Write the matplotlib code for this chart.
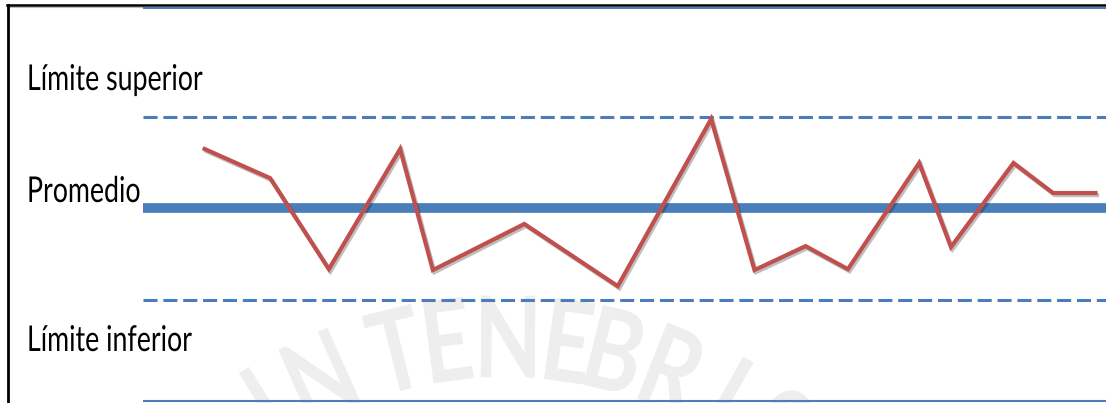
import numpy as np
import matplotlib
matplotlib.use("Agg")
import matplotlib.pyplot as plt
import matplotlib.patheffects as pe
from matplotlib.lines import Line2D
from matplotlib.transforms import Affine2D
from matplotlib.textpath import TextPath
from matplotlib.font_manager import FontProperties

# ---- data -------------------------------------------------------------
x_vals = [6.4, 13.2, 19.3, 26.7, 30.1, 39.6, 49.3, 59.0, 63.5, 68.8,
          73.2, 80.6, 83.9, 90.4, 94.5, 98.9]
y_vals = [1.96, 1.00, -2.00, 1.96, -2.03, -0.51, -2.56, 2.95, -2.03, -1.24,
          -2.00, 1.50, -1.27, 1.50, 0.51, 0.51]
mean_val = 0.0
ucl_val = 3.0
lcl_val = -3.0
frame_top = 6.6
frame_bottom = -6.35
labels = ["Límite superior", "Promedio", "Límite inferior"]
watermark = "IN TENEBRIS"


class HCompress(pe.AbstractPathEffect):
    """Draw text glyphs squeezed horizontally (the reference is a squeezed image)."""

    def __init__(self, sx, about="left"):
        super().__init__()
        self.sx = sx
        self.about = about

    def draw_path(self, renderer, gc, tpath, affine, rgbFace=None):
        if self.about == "center":
            ext = tpath.get_extents()
            c = (ext.x0 + ext.x1) / 2
        else:
            c = 0.0
        pre = Affine2D().translate(-c, 0).scale(self.sx, 1).translate(c, 0)
        renderer.draw_path(gc, tpath, pre + affine, rgbFace)


W, H = 1106, 403
fig = plt.figure(figsize=(W / 100, H / 100), dpi=100)
fig.patch.set_facecolor("white")

label_font = FontProperties(family=["Lato", "DejaVu Sans"])
# size the labels: cap height ~25.5 px, "Promedio" ~110 px wide
cap = TextPath((0, 0), "P", size=100, prop=label_font).get_extents().height / 100
fs_px = 25.5 / cap
fs_pt = fs_px * 72 / 100
w_prom = TextPath((0, 0), "Promedio", size=fs_px, prop=label_font).get_extents().width
sx_lab = 110 / w_prom

# background decoration axes in pixel units
bg = fig.add_axes([0, 0, 1, 1])
bg.set_xlim(0, W)
bg.set_ylim(H, 0)
bg.axis("off")

# watermark letters along an arc
wm_font = FontProperties(family=["Lato", "DejaVu Sans"], weight="bold")
wm_cap = TextPath((0, 0), "T", size=100, prop=wm_font).get_extents().height / 100
wm_pt = (82 / wm_cap) * 72 / 100
cx, cy, r = 505, 790, 445
wm_x = [270, 323, None, 398, 447, 508, 566, 612, 668, 724, 772]
for ch, xc in zip(watermark, wm_x):
    if xc is None:
        continue
    t = np.arcsin((xc - cx) / r)
    py = cy - r * np.cos(t)
    bg.text(xc, py, ch, fontproperties=wm_font, fontsize=wm_pt,
            color="#eeeeee", ha="center", va="center", rotation=-np.degrees(t),
            rotation_mode="anchor", zorder=0,
            path_effects=[HCompress(0.78, "center")])

# frame lines (black)
bg.add_line(Line2D([7.5, 7.5], [5, H], color="black", lw=2.0, zorder=5))
bg.add_line(Line2D([7, W], [5, 5], color="black", lw=1.8, zorder=5))
bg.add_line(Line2D([7, W], [6.8, 6.8], color="#bbbbbb", lw=0.8, zorder=4))

# labels
for txt, base in zip(labels, [90, 202, 351]):
    bg.text(27, base, txt, fontproperties=label_font, fontsize=fs_pt, color="black",
            va="baseline", ha="left", path_effects=[HCompress(sx_lab, "left")])

# main chart axes
ax = fig.add_axes([143 / W, 0, (W - 143) / W, 1])
ax.patch.set_alpha(0)
ax.set_xlim(0, 100)
ax.set_ylim(-6.41, 6.87)
ax.axis("off")

blue = "#4a7ebb"
ax.axhline(frame_top, color=blue, lw=1.5)
ax.axhline(frame_bottom, color=blue, lw=1.5)
ax.axhline(ucl_val, color=blue, lw=2.2, dashes=(4.6, 1.9))
ax.axhline(lcl_val, color=blue, lw=2.2, dashes=(4.6, 1.9))
ax.axhline(mean_val, color=blue, lw=7)

ax.plot(x_vals, y_vals, color="#c0504d", lw=3, solid_joinstyle="miter",
        path_effects=[pe.SimpleLineShadow(offset=(1.2, -1.5), alpha=0.25, shadow_color="black"),
                      pe.Normal()])

fig.savefig("out.png", dpi=100, facecolor="white")
